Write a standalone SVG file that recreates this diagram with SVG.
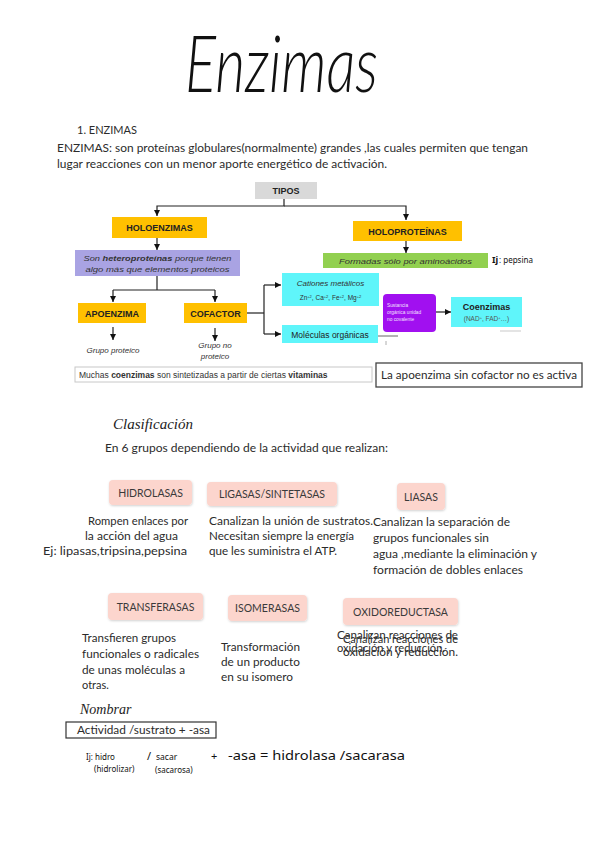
<svg xmlns="http://www.w3.org/2000/svg" width="599" height="848" viewBox="0 0 599 848">
<defs>
<marker id="ah" viewBox="0 0 6 6" refX="6" refY="3" markerWidth="6" markerHeight="6" markerUnits="userSpaceOnUse" orient="auto">
<path d="M0,0 L6,3 L0,6 z" fill="#111"/>
</marker>
<filter id="sh" x="-10%" y="-10%" width="130%" height="140%">
<feDropShadow dx="0.5" dy="1" stdDeviation="0.8" flood-color="#000" flood-opacity="0.18"/>
</filter>
</defs>
<style>
.body{font-family:Lato,"Noto Sans","Liberation Sans",sans-serif;font-size:11px;fill:#2b2b2b}
.dg{font-family:"Liberation Sans",Arial,sans-serif}
.lbl{font-family:"Liberation Sans",Arial,sans-serif;font-weight:bold;font-size:9px;fill:#222;text-anchor:middle}
.it{font-family:"Liberation Sans",Arial,sans-serif;font-style:italic;font-size:8px;fill:#333;text-anchor:middle}
.pink{fill:#fcd5cd}
.pl{font-family:Lato,"Noto Sans","Liberation Sans",sans-serif;font-size:10.5px;fill:#3a3a3a;text-anchor:middle}
.script{font-family:"Liberation Serif","DejaVu Serif",serif;font-style:italic;fill:#222}
.title{font-family:Lato,"Open Sans","Noto Sans",sans-serif;font-style:italic;font-weight:300;fill:#111}
.hand{font-family:"Noto Sans","DejaVu Sans",sans-serif;fill:#111}
.conn{fill:none;stroke:#222;stroke-width:1.2}
</style>
<rect width="599" height="848" fill="#fff"/>

<g id="title">
<text class="title" x="185" y="92" font-size="78" textLength="193" lengthAdjust="spacingAndGlyphs">Enzimas</text>
</g>

<g id="intro">
<text class="body" x="77" y="134">1. ENZIMAS</text>
<text class="body" x="57" y="152" textLength="471" lengthAdjust="spacingAndGlyphs">ENZIMAS: son proteínas globulares(normalmente) grandes ,las cuales permiten que tengan</text>
<text class="body" x="57" y="168" textLength="330" lengthAdjust="spacingAndGlyphs">lugar reacciones con un menor aporte energético de activación.</text>
</g>

<g id="connectors">
<path class="conn" d="M284,199 V206 H157 V216" marker-end="url(#ah)"/>
<path class="conn" d="M284,206 H406 V220" marker-end="url(#ah)"/>
<path class="conn" d="M157,238 V250" marker-end="url(#ah)"/>
<path class="conn" d="M406,241 V253" marker-end="url(#ah)"/>
<path class="conn" d="M157,276 V290"/>
<path class="conn" d="M113,290 H215"/>
<path class="conn" d="M113,290 V302" marker-end="url(#ah)"/>
<path class="conn" d="M215,290 V302" marker-end="url(#ah)"/>
<path class="conn" d="M113,327 V340" marker-end="url(#ah)"/>
<path class="conn" d="M215,328 V341" marker-end="url(#ah)"/>
<path class="conn" d="M247,313 H264"/>
<path class="conn" d="M264,285 V334"/>
<path class="conn" d="M264,285 H281" marker-end="url(#ah)"/>
<path class="conn" d="M264,334 H281" marker-end="url(#ah)"/>
<path class="conn" d="M436,312 H451" marker-end="url(#ah)"/>
<path d="M378,336 H398" stroke="#666" stroke-width="1" fill="none"/>
<path d="M386,341 V345" stroke="#999" stroke-width="0.8" fill="none"/>
<path d="M500,331 H521" stroke="#bbb" stroke-width="0.8" fill="none"/>
</g>

<g id="tipos">
<rect x="255" y="182" width="62" height="17" fill="#d9d9d9"/>
<text class="lbl" x="286" y="194">TIPOS</text>
</g>

<g id="holoenzimas">
<rect x="112" y="217" width="95" height="21" fill="#ffc000"/>
<text class="lbl" x="159.5" y="231">HOLOENZIMAS</text>
</g>

<g id="heteroproteinas">
<rect x="75" y="250" width="165" height="26" fill="#a9a3e3"/>
<text class="it" x="157.5" y="261" textLength="148" lengthAdjust="spacingAndGlyphs">Son <tspan font-weight="bold">heteroproteínas</tspan> porque tienen</text>
<text class="it" x="157.5" y="272" textLength="144" lengthAdjust="spacingAndGlyphs">algo más que elementos proteicos</text>
</g>

<g id="holoproteinas">
<rect x="353" y="221" width="109" height="20" fill="#ffc000"/>
<text class="lbl" x="407.5" y="234.5">HOLOPROTEÍNAS</text>
</g>

<g id="aminoacidos">
<rect x="323" y="253" width="165" height="15" fill="#92d050"/>
<text class="it" x="405.5" y="263.5" textLength="133" lengthAdjust="spacingAndGlyphs">Formadas sólo por aminoácidos</text>
</g>
<g id="ej-pepsina">
<text class="hand" x="492" y="263" font-size="9" font-weight="bold">Ij</text>
<text class="hand" x="499" y="263" font-size="8">: pepsina</text>
</g>

<g id="apoenzima">
<rect x="78" y="303" width="68" height="20" fill="#ffc000"/>
<text class="lbl" x="112" y="316.5">APOENZIMA</text>
</g>
<g id="grupo-proteico">
<text class="it" x="113" y="353" font-size="8.5" fill="#444">Grupo proteico</text>
</g>

<g id="cofactor">
<rect x="184" y="303" width="63" height="20" fill="#ffc000"/>
<text class="lbl" x="215.5" y="316.5">COFACTOR</text>
</g>
<g id="grupo-no-proteico">
<text class="it" x="215" y="348" font-size="8.5" fill="#444">Grupo no</text>
<text class="it" x="215" y="359" font-size="8.5" fill="#444">proteico</text>
</g>

<g id="cationes">
<rect x="282" y="273" width="97" height="33" fill="#5ff5fa"/>
<text class="it" x="330.5" y="286" font-size="8.5">Cationes metálicos</text>
<text class="dg" x="330.5" y="300" font-size="6.5" fill="#333" text-anchor="middle">Zn<tspan font-size="4" dy="-2.5">+2</tspan><tspan dy="2.5">, Ca</tspan><tspan font-size="4" dy="-2.5">+2</tspan><tspan dy="2.5">, Fe</tspan><tspan font-size="4" dy="-2.5">+2</tspan><tspan dy="2.5">, Mg</tspan><tspan font-size="4" dy="-2.5">+2</tspan></text>
</g>

<g id="moleculas">
<rect x="282" y="325" width="96" height="18" fill="#5ff5fa"/>
<text class="dg" x="330" y="337.5" font-size="8.5" fill="#222" text-anchor="middle">Moléculas orgánicas</text>
</g>

<g id="sustancia">
<rect x="383" y="294" width="53" height="38" rx="4" fill="#a110f0"/>
<text class="dg" x="387" y="307" font-size="4.8" fill="#f2e0ff">Sustancia</text>
<text class="dg" x="387" y="314" font-size="4.8" fill="#f2e0ff">orgánica unidad</text>
<text class="dg" x="387" y="321" font-size="4.8" fill="#f2e0ff">no covalente</text>
</g>

<g id="coenzimas">
<rect x="451" y="297" width="71" height="30" fill="#5ff5fa"/>
<text class="dg" x="486.5" y="309.5" font-size="9" font-weight="bold" fill="#222" text-anchor="middle">Coenzimas</text>
<text class="dg" x="486.5" y="321" font-size="6.5" fill="#555" text-anchor="middle">(NAD<tspan font-size="4" dy="-2.5">+</tspan><tspan dy="2.5">, FAD</tspan><tspan font-size="4" dy="-2.5">+</tspan><tspan dy="2.5">…)</tspan></text>
</g>

<g id="vitaminas">
<rect x="75" y="367" width="297" height="15" fill="#fff" stroke="#c8c8c8" stroke-width="1"/>
<text class="dg" x="79" y="378" font-size="8.5" fill="#333">Muchas <tspan font-weight="bold">coenzimas</tspan> son sintetizadas a partir de ciertas <tspan font-weight="bold">vitaminas</tspan></text>
</g>

<g id="apoenzima-nota">
<rect x="376" y="363" width="206" height="24" fill="#fff" stroke="#444" stroke-width="1.3"/>
<text class="body" x="381" y="379" font-size="11" fill="#222" textLength="196" lengthAdjust="spacingAndGlyphs">La apoenzima sin cofactor no es activa</text>
</g>

<g id="clasificacion">
<text class="script" x="113" y="429" font-size="15">Clasificación</text>
<text class="body" x="105" y="452" textLength="283" lengthAdjust="spacingAndGlyphs">En 6 grupos dependiendo de la actividad que realizan:</text>
</g>

<g id="hidrolasas">
<rect class="pink" x="109" y="480" width="83" height="25" rx="4" filter="url(#sh)"/>
<text class="pl" x="150.5" y="496.5">HIDROLASAS</text>
<text class="body" x="88" y="525" textLength="100" lengthAdjust="spacingAndGlyphs">Rompen enlaces por</text>
<text class="body" x="85" y="540" textLength="93" lengthAdjust="spacingAndGlyphs">la acción del agua</text>
<text class="body" x="43" y="555" textLength="144" lengthAdjust="spacingAndGlyphs">Ej: lipasas,tripsina,pepsina</text>
</g>

<g id="ligasas">
<rect class="pink" x="207" y="482" width="130" height="24" rx="4" filter="url(#sh)"/>
<text class="pl" x="272" y="498">LIGASAS/SINTETASAS</text>
<text class="body" x="209" y="525" textLength="164" lengthAdjust="spacingAndGlyphs">Canalizan la unión de sustratos.</text>
<text class="body" x="209" y="540" textLength="145" lengthAdjust="spacingAndGlyphs">Necesitan siempre la energía</text>
<text class="body" x="209" y="555" textLength="128" lengthAdjust="spacingAndGlyphs">que les suministra el ATP.</text>
</g>

<g id="liasas">
<rect class="pink" x="397" y="483" width="48" height="27" rx="4" filter="url(#sh)"/>
<text class="pl" x="421" y="500.5">LIASAS</text>
<text class="body" x="373" y="526" textLength="137" lengthAdjust="spacingAndGlyphs">Canalizan la separación de</text>
<text class="body" x="373" y="542" textLength="116" lengthAdjust="spacingAndGlyphs">grupos funcionales sin</text>
<text class="body" x="373" y="558" textLength="164" lengthAdjust="spacingAndGlyphs">agua ,mediante la eliminación y</text>
<text class="body" x="373" y="574" textLength="150" lengthAdjust="spacingAndGlyphs">formación de dobles enlaces</text>
</g>

<g id="transferasas">
<rect class="pink" x="108" y="593" width="95" height="27" rx="4" filter="url(#sh)"/>
<text class="pl" x="155.5" y="610.5">TRANSFERASAS</text>
<text class="body" x="82" y="642" textLength="94" lengthAdjust="spacingAndGlyphs">Transfieren grupos</text>
<text class="body" x="82" y="658" textLength="117" lengthAdjust="spacingAndGlyphs">funcionales o radicales</text>
<text class="body" x="82" y="674" textLength="103" lengthAdjust="spacingAndGlyphs">de unas moléculas a</text>
<text class="body" x="82" y="689">otras.</text>
</g>

<g id="isomerasas">
<rect class="pink" x="228" y="595" width="79" height="26" rx="4" filter="url(#sh)"/>
<text class="pl" x="267.5" y="612">ISOMERASAS</text>
<text class="body" x="221" y="651" textLength="79" lengthAdjust="spacingAndGlyphs">Transformación</text>
<text class="body" x="221" y="666" textLength="79" lengthAdjust="spacingAndGlyphs">de un producto</text>
<text class="body" x="221" y="681" textLength="72" lengthAdjust="spacingAndGlyphs">en su isomero</text>
</g>

<g id="oxidoreductasa">
<rect class="pink" x="343" y="598" width="115" height="27" rx="4" filter="url(#sh)"/>
<text class="pl" x="400.5" y="615.5">OXIDOREDUCTASA</text>
<text class="body" x="337" y="639" textLength="121" lengthAdjust="spacingAndGlyphs">Canalizan reacciones de</text>
<text class="body" x="337" y="652" textLength="108" lengthAdjust="spacingAndGlyphs">oxidación y reducción.</text>
<text class="body" x="343" y="643" textLength="115" lengthAdjust="spacingAndGlyphs">Canalizan reacciones de</text>
<text class="body" x="343" y="656" textLength="115" lengthAdjust="spacingAndGlyphs">oxidación y reducción.</text>
</g>

<g id="nombrar">
<text class="script" x="80" y="714" font-size="14">Nombrar</text>
<rect x="66" y="722" width="150" height="16" fill="#fff" stroke="#333" stroke-width="1.2"/>
<text class="body" x="77" y="734" fill="#222" textLength="133" lengthAdjust="spacingAndGlyphs">Actividad /sustrato + -asa</text>
</g>

<g id="ejemplo">
<text class="hand" x="86" y="760" font-size="8">Ij: hidro</text>
<text class="hand" x="94" y="772" font-size="8">(hidrolizar)</text>
<text class="hand" x="147" y="760" font-size="11">/</text>
<text class="hand" x="156" y="760" font-size="8.5">sacar</text>
<text class="hand" x="155" y="773" font-size="8">(sacarosa)</text>
<text class="hand" x="211" y="760" font-size="11">+</text>
<text class="hand" x="228" y="760" font-size="13" textLength="177" lengthAdjust="spacingAndGlyphs">-asa = hidrolasa /sacarasa</text>
</g>
</svg>
